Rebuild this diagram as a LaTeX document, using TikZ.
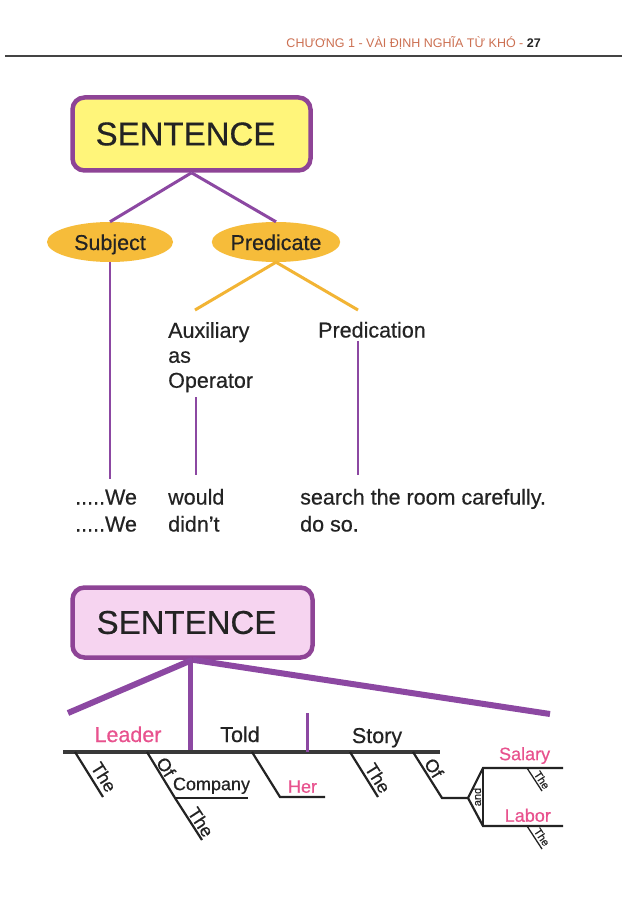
\documentclass[tikz,border=0pt]{standalone}
\usepackage{fontspec}
\setmainfont{Liberation Sans}[FakeBold=0.5]
\newfontfamily\hdrfont{Liberation Sans}
\usetikzlibrary{positioning,shapes.geometric}

\definecolor{boxpurple}{RGB}{142,68,150}
\definecolor{linepurple}{RGB}{140,72,162}
\definecolor{boxyellow}{RGB}{255,245,122}
\definecolor{boxpink}{RGB}{246,212,240}
\definecolor{partorange}{RGB}{246,188,58}
\definecolor{forkorange}{RGB}{242,180,52}
\definecolor{wordpink}{RGB}{232,82,142}
\definecolor{hdrorange}{RGB}{204,112,82}
\definecolor{textdark}{RGB}{35,35,35}

\newcommand{\sentsize}{\fontsize{33}{38}\selectfont}
\newcommand{\wordsize}{\fontsize{21.5}{25}\selectfont}
\newcommand{\modsize}{\fontsize{18}{21}\selectfont}
\newcommand{\andsize}{\fontsize{11}{13}\selectfont}
\newcommand{\hdrsize}{\hdrfont\fontsize{12.5}{15}\selectfont}

\begin{document}
\begin{tikzpicture}[
  x=1pt, y=-1pt,
  sentbox/.style={rectangle, rounded corners=12pt, draw=boxpurple, line width=4.5pt, minimum width=238pt, minimum height=73pt, font=\sentsize, text=textdark},
  part/.style={ellipse, fill=partorange, minimum width=126pt, minimum height=40pt, inner sep=0pt, text height=16pt, text depth=0pt, font=\wordsize, text=textdark},
  word/.style={inner sep=0pt, font=\wordsize, text=textdark},
  mod/.style={inner sep=3pt, font=\modsize, text=textdark},
  smallmod/.style={inner sep=0pt, font=\andsize, text=textdark},
  branch/.style={draw=linepurple, line width=3pt},
  stem/.style={draw=linepurple, line width=2pt},
  trunk/.style={draw=linepurple, line width=6pt},
  fork/.style={draw=forkorange, line width=3pt},
  mainline/.style={draw=textdark!90, line width=4pt},
  slant/.style={draw=textdark, line width=2.2pt}
]
\useasboundingbox (0,0) rectangle (622,909);
\fill[white] (0,0) rectangle (622,909);

% Page header
\node[anchor=base east, inner sep=0pt, font=\hdrsize, text=hdrorange] (hdr) at (541,48) {CHƯƠNG 1 - VÀI ĐỊNH NGHĨA TỪ KHÓ - \textcolor{textdark}{\textbf{27}}};
\coordinate (ruleL) at (5,56);
\coordinate (ruleR) at (622,56);
\draw[textdark!85, line width=1.5pt] (ruleL) -- (ruleR);

% First tree
\node[sentbox, fill=boxyellow] (sent) at (191.5,134) {SENTENCE\hspace*{12pt}};
\node[part] (subj) at (110,242) {Subject};
\node[part] (pred) at (276,242) {Predicate};
\draw[branch] (sent.south) -- (subj.north);
\draw[branch] (sent.south) -- (pred.north);

\coordinate (auxtop) at (195,310);
\coordinate (predntop) at (358,310);
\draw[fork] (pred.south) -- (auxtop);
\draw[fork] (pred.south) -- (predntop);

\node[word, align=left, anchor=north west] (aux) at (168,322) {Auxiliary\\as\\Operator};
\node[word, anchor=base] (predn) at (372,337.5) {Predication};

\node[word, anchor=base west] (we1) at (75,504.5) {.....We};
\node[word, anchor=base west] (we2) at (75,531.5) {.....We};
\node[word, anchor=base west] (would) at (168,504.5) {would};
\node[word, anchor=base west] (didnt) at (168,531.5) {didn’t};
\node[word, anchor=base west] (search) at (300,504.5) {search the room carefully.};
\node[word, anchor=base west] (doso) at (300,531.5) {do so.};

% Stems down to the example words
\draw[stem, shorten >=11pt] (subj.south) -- (subj.south |- we1.north);
\draw[stem, shorten <=5pt, shorten >=14pt] (aux.south -| would.north) -- (would.north);
\draw[stem, shorten <=3pt, shorten >=14pt] (predn.south -| predntop) -- (predntop |- search.north);

% Second tree
\node[sentbox, fill=boxpink, minimum width=240pt, minimum height=70pt] (sent2) at (192.5,622.5) {SENTENCE\hspace*{12pt}};

\coordinate (lead) at (68,713);
\coordinate (verb) at (190,751.5);
\coordinate (obj) at (550,714);
\coordinate (bl) at (63,751.5);
\coordinate (br) at (440,751.5);
\coordinate (divtop) at (307,713);

\draw[trunk] (sent2.south) -- (lead);
\draw[trunk, line width=5pt] (sent2.south -| verb) -- (verb);
\draw[trunk] (sent2.south) -- (obj);
\draw[mainline] (bl) -- (br);
\draw[branch] (divtop) -- (divtop |- bl);

\node[word, text=wordpink, anchor=base] (leader) at (128,742) {Leader};
\node[word, anchor=base] (told) at (240,742) {Told};
\node[word, anchor=base] (story) at (377,743) {Story};

% Modifiers under the base line
\coordinate (the1a) at (75,752);
\coordinate (the1b) at (103,797);
\draw[slant] (the1a) -- (the1b);
\node[mod, rotate=-58] (the1) at (104,777) {The};

\coordinate (of1a) at (147,752);
\coordinate (of1b) at (175,798);
\coordinate (of1c) at (202,840);
\coordinate (compend) at (248,798);
\draw[slant] (of1a) -- (of1b) -- (of1c);
\draw[slant] (of1b) -- node[mod, above, midway] (company) {Company} (compend);
\node[mod, rotate=-58] (of1) at (166,767) {Of};
\node[mod, rotate=-57] (the2) at (201,822) {The};

\coordinate (hera) at (252,752);
\coordinate (herb) at (280,797);
\coordinate (herc) at (325,797);
\draw[slant] (hera) -- (herb) -- node[mod, text=wordpink, above, midway] (her) {Her} (herc);

\coordinate (the3a) at (350,752);
\coordinate (the3b) at (378,797);
\draw[slant] (the3a) -- (the3b);
\node[mod, rotate=-58] (the3) at (378,778) {The};

\coordinate (of2a) at (413,752);
\coordinate (of2b) at (442,798);
\coordinate (of2c) at (468,798);
\coordinate (andtop) at (483,768);
\coordinate (andbot) at (483,826);
\coordinate (salend) at (563,768);
\coordinate (labend) at (563,826);
\draw[slant] (of2a) -- (of2b) -- (of2c) -- (andtop) -- node[mod, text=wordpink, above, pos=0.52] (salary) {Salary} (salend);
\draw[slant] (of2c) -- (andbot) -- node[mod, text=wordpink, above, pos=0.56] (labor) {Labor} (labend);
\draw[textdark, line width=1.2pt] (andtop) -- (andbot);
\node[mod, rotate=-58] (of2) at (434,768) {Of};
\node[smallmod, rotate=90] (and) at (477,797) {and};

% Articles on the compound object
\coordinate (the4a) at (527,768);
\coordinate (the4b) at (542,791);
\coordinate (the5a) at (527,826);
\coordinate (the5b) at (542,849);
\draw[slant, line width=1.3pt] (the4a) -- (the4b);
\draw[slant, line width=1.3pt] (the5a) -- (the5b);
\node[smallmod, rotate=-57] (the4) at (542,780) {The};
\node[smallmod, rotate=-57] (the5) at (542,837) {The};

\end{tikzpicture}
\end{document}
